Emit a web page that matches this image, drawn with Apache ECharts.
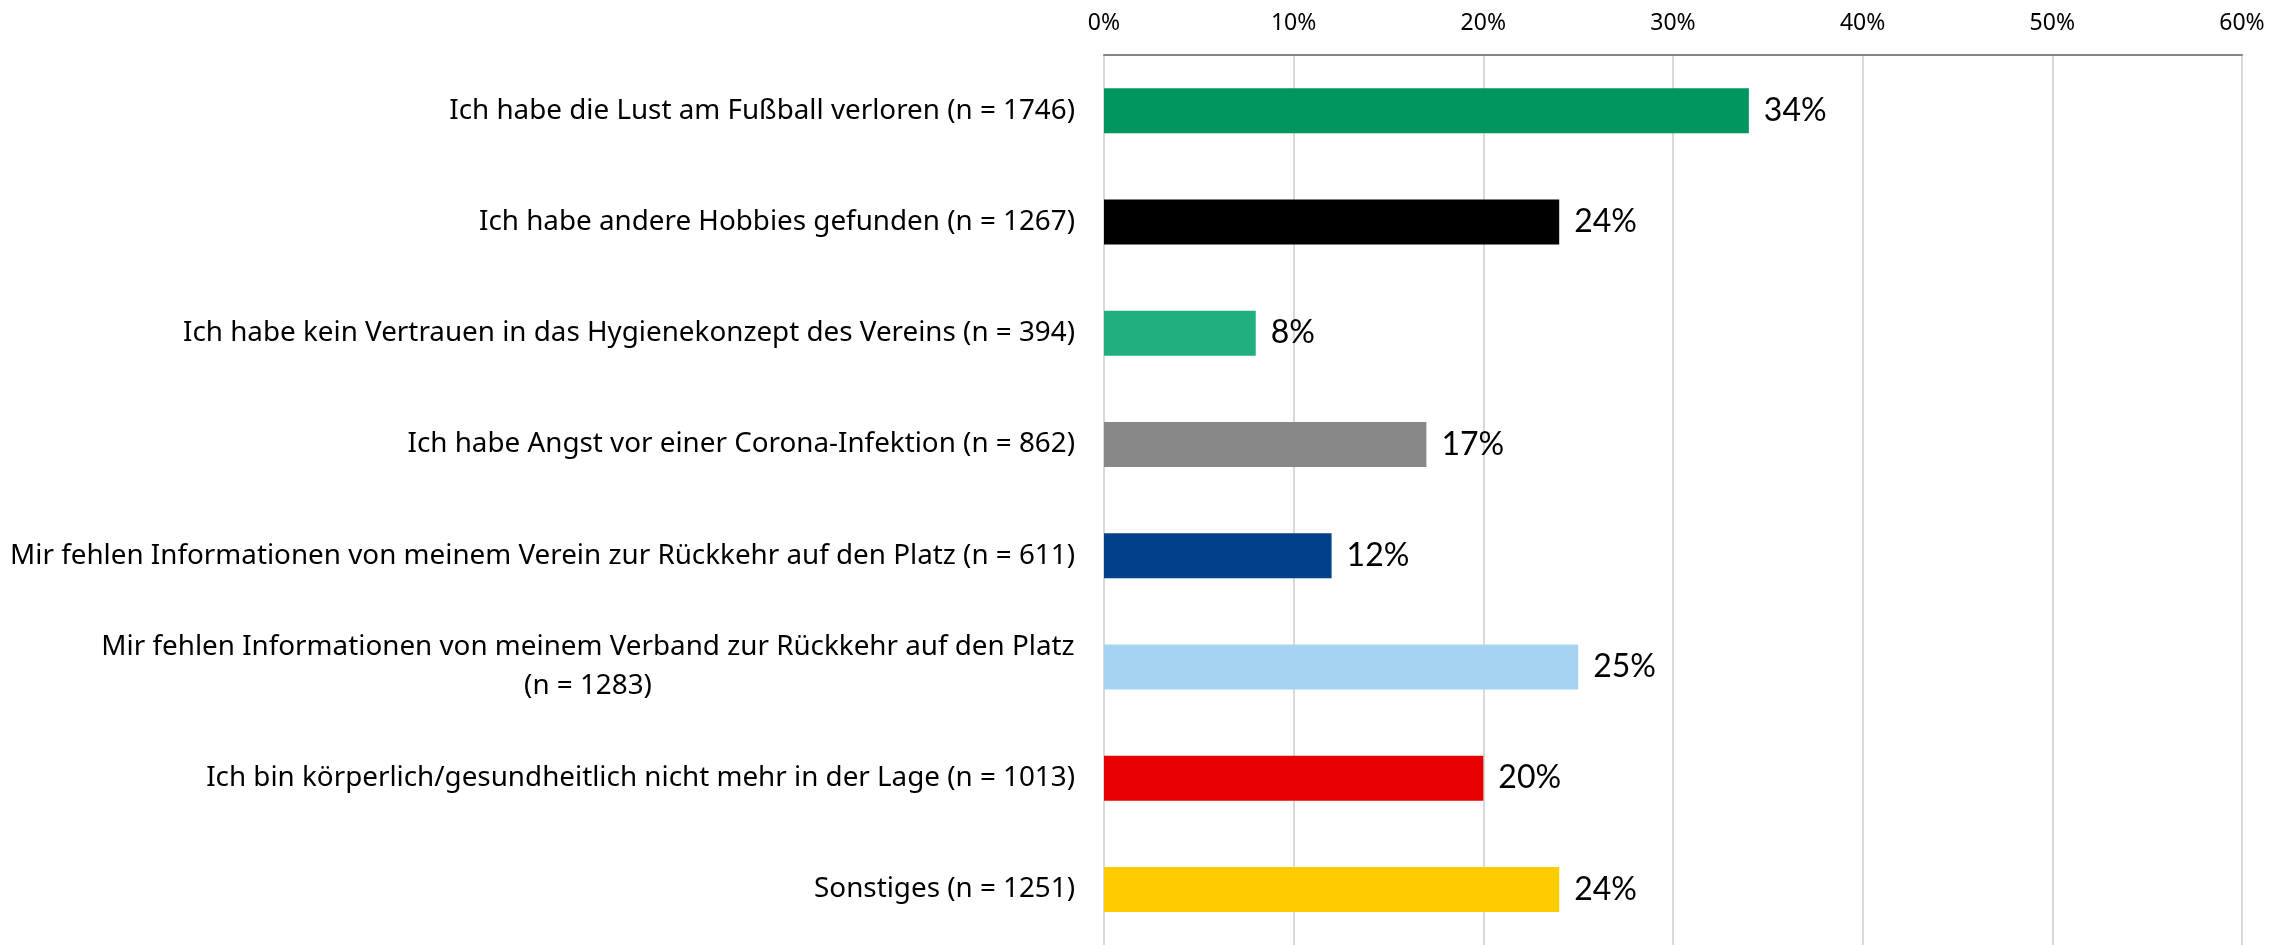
<!DOCTYPE html>
<html>
<head>
<meta charset="utf-8">
<script src="https://cdn.jsdelivr.net/npm/echarts@6/dist/echarts.min.js"></script>
<style>
  html, body { margin: 0; padding: 0; background: #fff; }
  #chart { width: 2289px; height: 945px; }
</style>
</head>
<body>
<div id="chart"></div>
<script>
// categories, top to bottom
var categories = [
  'Ich habe die Lust am Fußball verloren (n = 1746)',
  'Ich habe andere Hobbies gefunden (n = 1267)',
  'Ich habe kein Vertrauen in das Hygienekonzept des Vereins (n = 394)',
  'Ich habe Angst vor einer Corona-Infektion (n = 862)',
  'Mir fehlen Informationen von meinem Verein zur Rückkehr auf den Platz (n = 611)',
  'Mir fehlen Informationen von meinem Verband zur Rückkehr auf den Platz\n(n = 1283)',
  'Ich bin körperlich/gesundheitlich nicht mehr in der Lage (n = 1013)',
  'Sonstiges (n = 1251)'
];
var percent = [34, 24, 8, 17, 12, 25, 20, 24];
var barColors = ['#00965E', '#000000', '#21AF80', '#888888', '#00418A', '#A6D3F2', '#E60000', '#FFCC00'];

var labelSize = 27.8;
var labelFont = labelSize + 'px "Noto Sans"';

// width of first line of the wrapped label, so the 2nd line can be centered under it
function textWidth(t) {
  var c = document.createElement('canvas').getContext('2d');
  c.font = labelFont;
  return Math.ceil(c.measureText(t).width);
}

var myChart = echarts.init(document.getElementById('chart'));

var option = {
  animation: false,
  grid: { left: 1104, right: 47, top: 55, bottom: 0, containLabel: false },
  xAxis: {
    type: 'value',
    position: 'top',
    min: 0,
    max: 60,
    interval: 10,
    axisLine: { show: true, lineStyle: { color: '#868686', width: 2 } },
    axisTick: { show: false },
    splitLine: { show: true, lineStyle: { color: '#d9d9d9', width: 2 } },
    axisLabel: {
      margin: 20,
      fontFamily: 'Noto Sans',
      fontSize: 23,
      color: '#000',
      formatter: function (v) { return v + '%'; }
    }
  },
  yAxis: {
    type: 'category',
    inverse: true,
    data: categories,
    axisLine: { show: false },
    axisTick: { show: false },
    axisLabel: {
      margin: 29,
      fontFamily: 'Noto Sans',
      fontSize: labelSize,
      color: '#000',
      formatter: function (v) {
        if (v.indexOf('\n') < 0) return v;
        var parts = v.split('\n');
        return '{c|' + parts[0] + '}\n{c|' + parts[1] + '}';
      },
      rich: {
        c: {
          width: textWidth(categories[5].split('\n')[0]),
          align: 'center',
          fontFamily: 'Noto Sans',
          fontSize: labelSize,
          lineHeight: 39,
          color: '#000'
        }
      }
    }
  },
  series: [{
    type: 'bar',
    barWidth: 45,
    data: percent.map(function (v, i) {
      return { value: v, itemStyle: { color: barColors[i] } };
    }),
    label: {
      show: true,
      position: 'right',
      distance: 15,
      fontFamily: 'Lato',
      fontSize: 32,
      color: '#000',
      formatter: '{c}%'
    }
  }]
};

myChart.setOption(option);
</script>
</body>
</html>
